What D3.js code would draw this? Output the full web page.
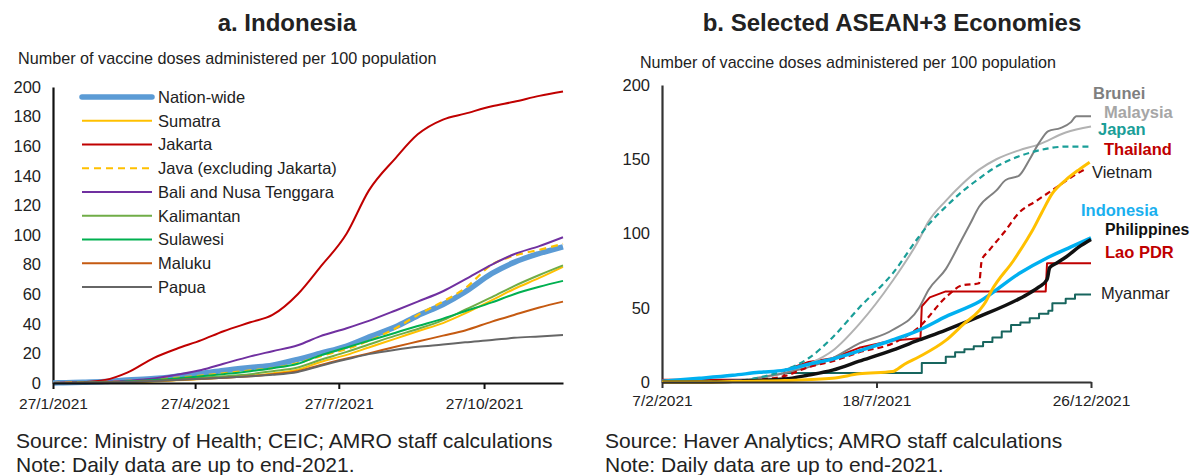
<!DOCTYPE html>
<html>
<head>
<meta charset="utf-8">
<script src="https://cdn.jsdelivr.net/npm/d3@7"></script>
<style>
  body { margin: 0; background: #fff; }
  svg { display: block; font-family: "Liberation Sans", Arial, sans-serif; }
</style>
</head>
<body>
<svg id="chart" width="1193" height="475"></svg>
<script>
// ---------- Panel a: Indonesia, doses per 100 population ----------
const idDates = ["2021-01-27","2021-02-01","2021-02-15","2021-03-01","2021-03-15","2021-04-01","2021-04-15",
  "2021-05-01","2021-05-15","2021-06-01","2021-06-15","2021-07-01","2021-07-15","2021-08-01","2021-08-15",
  "2021-09-01","2021-09-15","2021-10-01","2021-10-15","2021-11-01","2021-11-15","2021-12-01","2021-12-16"];
const nationWide = [0,0.2,0.5,1,2,3,4.5,6.5,8.5,10.5,12,16,20,25,31,38,45.5,53,61.5,74,81.5,87.5,92];
const sumatra    = [0,0,0,0.1,0.4,1,1.8,2.7,3.7,5,6.5,9,14,19,24,30,35,40.5,47,56,63.5,71,78.5];
const jakarta    = [0,0.2,0.5,2,7,17,23,29,35,41,46,60,78,101,130,152,168,178,182,187,190,194,197];
const javaExJkt  = [0,0.1,0.3,0.7,1.5,2.5,3.5,5,6.5,8.5,10,13.5,18,23,28.5,37,46,55,64,80,86,90,94];
const baliNusa   = [0,0,0.3,0.8,1.5,3,5.5,8.8,13,18,21.5,25.5,31.5,37,42,49,55,62,70,80,87,92.5,98.5];
const kalimantan = [0,0,0.1,0.3,0.8,1.5,2.5,3.5,4.5,6,8,10.5,15.5,21,26,32,36.5,42.5,49.5,58,65.5,73,79.5];
const sulawesi   = [0,0,0.2,0.5,1,2,3,4.5,6,8,10,13,18.5,24,28.5,34,38.5,43.5,48.5,54.5,60,65,69];
const maluku     = [0,0,0.1,0.3,0.7,1.3,2,2.8,3.5,4.5,6,8,12,16.5,20,24.5,28,32,35.5,41.5,46,51,55];
const papua      = [0,0,0.1,0.3,0.7,1.3,2,2.8,3.5,4.5,5.5,7.5,11.5,16,19.5,22.5,24.5,26,27.5,29,30.5,31.5,32.5];
const idTickDates  = ["2021-01-27","2021-04-27","2021-07-27","2021-10-27"];
const idTickLabels = ["27/1/2021","27/4/2021","27/7/2021","27/10/2021"];
const idYTicks = [0,20,40,60,80,100,120,140,160,180,200];

// ---------- Panel b: selected ASEAN+3 economies ----------
const brunei = [["2021-02-07",0],["2021-04-01",0],["2021-04-21",3],["2021-05-10",6],["2021-05-28",10],["2021-06-15",16],
  ["2021-07-05",26],["2021-07-30",35],["2021-08-19",50],["2021-08-26",62],["2021-09-08",76],["2021-09-20",96],
  ["2021-09-26",106],["2021-10-03",118],["2021-10-16",129],["2021-10-23",136],["2021-11-02",139],["2021-11-10",150],
  ["2021-11-17",161],["2021-11-24",169],["2021-12-03",171],["2021-12-11",175],["2021-12-15",179],["2021-12-26",179]];
const malaysia = [["2021-02-07",0],["2021-03-07",0.3],["2021-04-01",1],["2021-04-21",2.5],["2021-05-10",6],["2021-05-28",12],
  ["2021-06-15",21],["2021-07-05",39],["2021-07-30",68],["2021-08-19",96],["2021-08-26",108],["2021-09-08",122],
  ["2021-09-20",133],["2021-10-03",143],["2021-10-16",150],["2021-11-02",156],["2021-11-17",160],["2021-12-07",168],["2021-12-26",172]];
const japan = [["2021-02-07",0],["2021-03-07",0.2],["2021-04-01",0.6],["2021-04-21",3],["2021-05-10",8],["2021-05-28",16],
  ["2021-06-15",30],["2021-07-05",50],["2021-07-30",73],["2021-08-19",98],["2021-08-26",106],["2021-09-08",118],
  ["2021-09-20",128],["2021-10-03",137],["2021-10-16",145],["2021-11-02",152],["2021-11-17",156],["2021-12-07",158.5],["2021-12-26",158.5]];
const thailand = [["2021-02-07",0],["2021-03-07",0],["2021-04-01",0.5],["2021-04-21",1.5],["2021-05-10",4],["2021-05-28",10],
  ["2021-06-15",14],["2021-07-05",20],["2021-07-30",26],["2021-08-19",37],["2021-09-08",57],["2021-09-20",65],
  ["2021-10-03",66.5],["2021-10-05",82],["2021-10-10",88],["2021-10-22",101],["2021-11-02",114],["2021-11-15",122],
  ["2021-11-30",131],["2021-12-15",140],["2021-12-21",143]];
const vietnam = [["2021-02-07",0],["2021-03-07",0],["2021-04-01",0.3],["2021-05-10",1],["2021-06-15",2.5],["2021-07-05",5.5],
  ["2021-07-30",7],["2021-08-08",12],["2021-08-19",17],["2021-09-08",28],["2021-09-22",39.5],["2021-10-03",48],
  ["2021-10-08",54],["2021-10-12",61],["2021-10-29",82],["2021-11-08",96],["2021-11-12",102],["2021-11-19",114],
  ["2021-11-27",127],["2021-12-07",136],["2021-12-17",143],["2021-12-25",148]];
const indonesia = [["2021-02-07",0.5],["2021-03-07",2.5],["2021-04-01",4.5],["2021-04-21",6.5],["2021-05-10",8],["2021-05-28",12],
  ["2021-06-15",15.5],["2021-07-05",21],["2021-07-30",28.3],["2021-08-19",35],["2021-09-08",44],["2021-10-03",54],
  ["2021-11-02",73],["2021-11-24",84],["2021-12-11",91],["2021-12-26",97]];
const philippines = [["2021-02-07",0],["2021-03-07",0],["2021-04-01",0.5],["2021-05-10",2],["2021-05-28",4.7],["2021-06-15",8],
  ["2021-07-05",14],["2021-07-30",21.5],["2021-08-19",28.3],["2021-09-08",35],["2021-10-03",44],["2021-11-02",56],
  ["2021-11-10",60],["2021-11-17",64],["2021-11-23",69],["2021-11-25",77],["2021-11-30",80],["2021-12-07",84],
  ["2021-12-17",91],["2021-12-26",96]];
const laoPDR = [["2021-02-07",1.5],["2021-05-09",1.5],["2021-05-10",8],["2021-05-28",13.5],["2021-06-15",16],["2021-07-05",23],
  ["2021-07-30",28],["2021-08-20",29.5],["2021-08-21",51],["2021-08-27",57],["2021-09-08",61],["2021-11-22",61],
  ["2021-11-23",80],["2021-12-26",80]];
const myanmar = [["2021-02-07",0],["2021-05-10",6],["2021-08-21",12.8],["2021-09-08",17],["2021-09-15",20],["2021-09-22",22],
  ["2021-09-29",24],["2021-10-06",27],["2021-10-13",30],["2021-10-20",34],["2021-10-27",38.4],["2021-11-03",40],
  ["2021-11-10",43],["2021-11-17",46],["2021-11-24",48],["2021-11-27",53],["2021-12-07",56],["2021-12-14",59],["2021-12-26",59]];
const asTickDates  = ["2021-02-07","2021-07-18","2021-12-26"];
const asTickLabels = ["7/2/2021","18/7/2021","26/12/2021"];
const asYTicks = [0,50,100,150,200];

// ---------- drawing ----------
const parse = d3.timeParse("%Y-%m-%d");
const svg = d3.select("#chart");
const ink = "#222";

function addText(x, y, str, opts = {}) {
  return svg.append("text")
    .attr("x", x).attr("y", y)
    .attr("font-size", opts.size || 16)
    .attr("font-weight", opts.weight || "normal")
    .attr("text-anchor", opts.anchor || "start")
    .attr("fill", opts.color || ink)
    .text(str);
}

function styleAxis(g, color, fontSize) {
  g.attr("font-family", null).attr("font-size", fontSize);
  g.select(".domain").attr("stroke", color).attr("stroke-width", 2.2);
  g.selectAll(".tick line").attr("stroke", color).attr("stroke-width", 2);
  g.selectAll(".tick text").attr("fill", ink);
}

// ----- Panel a -----
const xA = d3.scaleTime().domain([parse("2021-01-27"), parse("2021-12-16")]).range([53, 563]);
const yA = d3.scaleLinear().domain([0, 200]).range([383, 87]);

addText(287, 31, "a. Indonesia", { size: 24, weight: "bold", anchor: "middle" });
addText(18, 64, "Number of vaccine doses administered per 100 population", { size: 16.2 });

const gYA = svg.append("g").attr("transform", `translate(${xA.range()[0]},0)`)
  .call(d3.axisLeft(yA).tickValues(idYTicks).tickSize(0).tickPadding(12).tickSizeOuter(0));
styleAxis(gYA, "#111", 16.5);

const idSeries = [
  { name: "Nation-wide", values: nationWide, color: "#5b9bd5", width: 5.5 },
  { name: "Sumatra", values: sumatra, color: "#ffc000", width: 2 },
  { name: "Jakarta", values: jakarta, color: "#c00000", width: 2 },
  { name: "Java (excluding Jakarta)", values: javaExJkt, color: "#ffc000", width: 2.2, dash: "7,5" },
  { name: "Bali and Nusa Tenggara", values: baliNusa, color: "#7030a0", width: 2 },
  { name: "Kalimantan", values: kalimantan, color: "#70ad47", width: 2 },
  { name: "Sulawesi", values: sulawesi, color: "#00b050", width: 2 },
  { name: "Maluku", values: maluku, color: "#c55a11", width: 2 },
  { name: "Papua", values: papua, color: "#666666", width: 2 }
];

const lineA = d3.line()
  .x((d, i) => xA(parse(idDates[i])))
  .y(d => yA(d))
  .curve(d3.curveMonotoneX);

svg.append("g").selectAll("path").data(idSeries).join("path")
  .attr("d", s => lineA(s.values))
  .attr("fill", "none")
  .attr("stroke", s => s.color)
  .attr("stroke-width", s => s.width)
  .attr("stroke-dasharray", s => s.dash || null)
  .attr("stroke-linejoin", "round");

const gXA = svg.append("g").attr("transform", `translate(0,${yA(0)})`)
  .call(d3.axisBottom(xA).tickValues(idTickDates.map(parse))
    .tickFormat((d, i) => idTickLabels[i]).tickSize(6).tickPadding(9).tickSizeOuter(0));
styleAxis(gXA, "#111", 15.5);

// legend
const legend = svg.append("g");
idSeries.forEach((s, i) => {
  const cy = 97 + i * 23.75;
  legend.append("line").attr("x1", 82).attr("x2", 152).attr("y1", cy).attr("y2", cy)
    .attr("stroke", s.color).attr("stroke-width", s.width).attr("stroke-dasharray", s.dash || null)
    .attr("stroke-linecap", s.width > 4 ? "round" : "butt");
  legend.append("text").attr("x", 158).attr("y", cy).attr("dy", "0.35em")
    .attr("font-size", 16.5).attr("fill", ink).text(s.name);
});

addText(16, 448, "Source: Ministry of Health; CEIC; AMRO staff calculations", { size: 21 });
addText(16, 472, "Note: Daily data are up to end-2021.", { size: 21 });

// ----- Panel b -----
const xB = d3.scaleTime().domain([parse("2021-02-07"), parse("2021-12-26")]).range([662, 1091]);
const yB = d3.scaleLinear().domain([0, 200]).range([382, 85]);

addText(892, 31, "b. Selected ASEAN+3 Economies", { size: 24, weight: "bold", anchor: "middle" });
addText(640, 68, "Number of vaccine doses administered per 100 population", { size: 16.1 });

const gYB = svg.append("g").attr("transform", `translate(${xB.range()[0]},0)`)
  .call(d3.axisLeft(yB).tickValues(asYTicks).tickSize(0).tickPadding(12).tickSizeOuter(0));
styleAxis(gYB, "#333", 16.5);

const asSeries = [
  { name: "Myanmar", values: myanmar, color: "#17655e", width: 2, curve: d3.curveStepAfter },
  { name: "Lao PDR", values: laoPDR, color: "#c00000", width: 2, curve: d3.curveLinear },
  { name: "Malaysia", values: malaysia, color: "#b2b2b2", width: 2, curve: d3.curveMonotoneX },
  { name: "Brunei", values: brunei, color: "#808080", width: 2, curve: d3.curveMonotoneX },
  { name: "Japan", values: japan, color: "#1a9e98", width: 2.2, dash: "6,4", curve: d3.curveMonotoneX },
  { name: "Thailand", values: thailand, color: "#c00000", width: 2.2, dash: "6,4", curve: d3.curveMonotoneX },
  { name: "Indonesia", values: indonesia, color: "#00b0f0", width: 3.5, curve: d3.curveMonotoneX },
  { name: "Philippines", values: philippines, color: "#111111", width: 3.5, curve: d3.curveMonotoneX },
  { name: "Vietnam", values: vietnam, color: "#ffc000", width: 3, curve: d3.curveMonotoneX }
];

svg.append("g").selectAll("path").data(asSeries).join("path")
  .attr("d", s => d3.line().x(d => xB(parse(d[0]))).y(d => yB(d[1])).curve(s.curve)(s.values))
  .attr("fill", "none")
  .attr("stroke", s => s.color)
  .attr("stroke-width", s => s.width)
  .attr("stroke-dasharray", s => s.dash || null)
  .attr("stroke-linejoin", "round");

const gXB = svg.append("g").attr("transform", `translate(0,${yB(0)})`)
  .call(d3.axisBottom(xB).tickValues(asTickDates.map(parse))
    .tickFormat((d, i) => asTickLabels[i]).tickSize(6).tickPadding(7).tickSizeOuter(0));
styleAxis(gXB, "#333", 15.5);

// end-of-line country names (stacked to the right of the plot)
const tags = [
  { name: "Brunei", color: "#7f7f7f", weight: "bold", dx: 2, level: 194.6, size: 16.5 },
  { name: "Malaysia", color: "#a6a6a6", weight: "bold", dx: 13, level: 181.8, size: 16.5 },
  { name: "Japan", color: "#1a9e98", weight: "bold", dx: 7, level: 170.4, size: 16.5 },
  { name: "Thailand", color: "#c00000", weight: "bold", dx: 13, level: 156.9, size: 16.5 },
  { name: "Vietnam", color: ink, weight: "normal", dx: 1, level: 141.4, size: 16.5 },
  { name: "Indonesia", color: "#1ab0ef", weight: "bold", dx: -10, level: 115.8, size: 16.5 },
  { name: "Philippines", color: "#111", weight: "bold", dx: 14, level: 103.0, size: 15.8 },
  { name: "Lao PDR", color: "#c00000", weight: "bold", dx: 14, level: 87.5, size: 16.5 },
  { name: "Myanmar", color: ink, weight: "normal", dx: 10, level: 59.9, size: 16.5 }
];
svg.append("g").selectAll("text").data(tags).join("text")
  .attr("x", t => xB.range()[1] + t.dx)
  .attr("y", t => yB(t.level))
  .attr("dy", "0.35em")
  .attr("font-size", t => t.size)
  .attr("font-weight", t => t.weight)
  .attr("fill", t => t.color)
  .text(t => t.name);

addText(605, 448, "Source: Haver Analytics; AMRO staff calculations", { size: 21 });
addText(605, 472, "Note: Daily data are up to end-2021.", { size: 21 });
</script>
</body>
</html>
